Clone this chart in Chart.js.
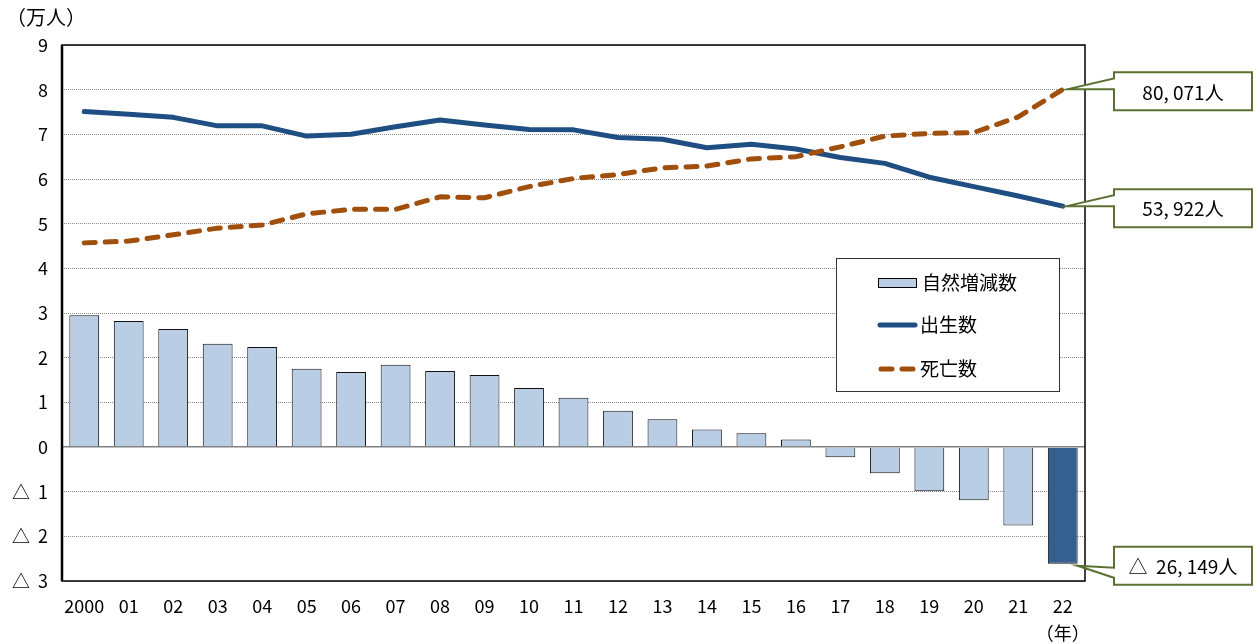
<!DOCTYPE html>
<html>
<head>
<meta charset="utf-8">
<script src="https://cdn.jsdelivr.net/npm/chart.js@4/dist/chart.umd.min.js"></script>
<style>
  html, body { margin: 0; padding: 0; background: #fff; }
  #wrap { width: 1260px; height: 644px; position: relative; }
</style>
</head>
<body>
<div id="wrap"><canvas id="chart"></canvas></div>
<script>
const years = ['2000','01','02','03','04','05','06','07','08','09','10','11','12','13','14','15','16','17','18','19','20','21','22']
// 万人
const natural = [2.95,2.82,2.64,2.31,2.24,1.75,1.68,1.84,1.70,1.61,1.32,1.10,0.81,0.62,0.39,0.31,0.17,-0.23,-0.59,-0.99,-1.19,-1.76,-2.6149]
const births = [7.51,7.45,7.38,7.19,7.19,6.96,7.00,7.17,7.32,7.21,7.11,7.10,6.93,6.89,6.70,6.78,6.67,6.48,6.35,6.04,5.83,5.62,5.3922]
const deaths = [4.57,4.61,4.75,4.90,4.97,5.22,5.32,5.32,5.60,5.58,5.83,6.01,6.10,6.25,6.29,6.45,6.50,6.72,6.96,7.02,7.04,7.39,8.0071]
const yTicks = [-3,-2,-1,0,1,2,3,4,5,6,7,8,9]
const seriesNames = ['自然増減数','出生数','死亡数']
const callouts = ['80, 071人','53, 922人','△  26, 149人']
const unitLabel = '（万人）'
const yearLabel = '（年）'

const FONT = '"Noto Sans CJK JP", "Noto Sans", sans-serif'
const BLUE = '#1f4e82'
const BROWN = '#a04f0c'
const BAR = '#b9cde5'
const BAR_LAST = '#365f91'
const GREEN = '#5b7132'

const xLabels = years.map((y, i) => i === years.length - 1 ? [y, yearLabel] : y)

const framePlugin = {
  id: 'frame',
  beforeDatasetsDraw(chart) {
    const { ctx, chartArea: a } = chart
    ctx.save()
    ctx.strokeStyle = '#000'
    ctx.lineWidth = 1.5
    ctx.strokeRect(a.left, a.top, a.right - a.left, a.bottom - a.top)
    ctx.lineWidth = 2.5
    ctx.beginPath()
    ctx.moveTo(a.left, a.top)
    ctx.lineTo(a.left, a.bottom)
    ctx.stroke()
    ctx.restore()
  }
}

const extrasPlugin = {
  id: 'extras',
  afterDraw(chart) {
    const { ctx, chartArea: a } = chart
    ctx.save()

    // unit label
    ctx.fillStyle = '#000'
    ctx.font = '20px ' + FONT
    ctx.textBaseline = 'middle'
    ctx.textAlign = 'left'
    ctx.fillText(unitLabel, 6, 17)

    // legend box
    const lx = a.right - 249, ly = a.top + 213, lw = 223, lh = 133
    ctx.fillStyle = '#fff'
    ctx.fillRect(lx, ly, lw, lh)
    ctx.strokeStyle = '#333'
    ctx.lineWidth = 1
    ctx.strokeRect(lx + 0.5, ly + 0.5, lw, lh)

    ctx.font = '19px ' + FONT
    ctx.textBaseline = 'middle'
    const sx = lx + 42
    // bar swatch
    ctx.fillStyle = BAR
    ctx.fillRect(sx, ly + 20, 38, 9)
    ctx.strokeStyle = '#000'
    ctx.strokeRect(sx + 0.5, ly + 20.5, 38, 9)
    ctx.fillStyle = '#000'
    ctx.fillText(seriesNames[0], sx + 44, ly + 25)
    // births
    ctx.strokeStyle = BLUE
    ctx.lineWidth = 5
    ctx.lineCap = 'round'
    ctx.beginPath()
    ctx.moveTo(sx + 2, ly + 67)
    ctx.lineTo(sx + 37, ly + 67)
    ctx.stroke()
    ctx.fillText(seriesNames[1], sx + 42, ly + 67)
    // deaths
    ctx.strokeStyle = BROWN
    ctx.setLineDash([11, 10])
    ctx.beginPath()
    ctx.moveTo(sx + 3, ly + 111)
    ctx.lineTo(sx + 38, ly + 111)
    ctx.stroke()
    ctx.setLineDash([])
    ctx.fillText(seriesNames[2], sx + 42, ly + 111)

    // callouts
    const last = years.length - 1
    const barEl = chart.getDatasetMeta(0).data[last]
    const bEl = chart.getDatasetMeta(1).data[last]
    const dEl = chart.getDatasetMeta(2).data[last]
    const tips = [
      { x: dEl.x + 4, y: dEl.y, text: callouts[0] },
      { x: bEl.x + 4, y: bEl.y, text: callouts[1] },
      { x: barEl.x + barEl.width / 2, y: barEl.y + 2, text: callouts[2] }
    ]
    const bx = a.right + 29, bw = 138, bh = 38
    ctx.font = '19px ' + FONT
    ctx.textAlign = 'center'
    tips.forEach((t, i) => {
      const by = i === 2 ? t.y - 19 : t.y - 17
      const w1 = i === 2 ? by + 21 : by + 6
      const w2 = i === 2 ? by + 31 : by + 17
      ctx.beginPath()
      ctx.moveTo(t.x, t.y)
      ctx.lineTo(bx, w1)
      ctx.lineTo(bx, by)
      ctx.lineTo(bx + bw, by)
      ctx.lineTo(bx + bw, by + bh)
      ctx.lineTo(bx, by + bh)
      ctx.lineTo(bx, w2)
      ctx.closePath()
      ctx.fillStyle = '#fff'
      ctx.fill()
      ctx.strokeStyle = GREEN
      ctx.lineWidth = 2
      ctx.lineJoin = 'miter'
      ctx.stroke()
      ctx.fillStyle = '#000'
      ctx.fillText(t.text, bx + bw / 2, by + bh / 2 + 1)
    })
    ctx.restore()
  }
}

new Chart(document.getElementById('chart'), {
  data: {
    labels: xLabels,
    datasets: [
      {
        type: 'bar',
        label: seriesNames[0],
        data: natural,
        backgroundColor: natural.map((v, i) => i === natural.length - 1 ? BAR_LAST : BAR),
        borderColor: '#111',
        borderWidth: 1,
        barPercentage: 0.67,
        categoryPercentage: 1,
        order: 2
      },
      {
        type: 'line',
        label: seriesNames[1],
        data: births,
        borderColor: BLUE,
        borderWidth: 5,
        pointRadius: 0,
        tension: 0,
        borderJoinStyle: 'round',
        borderCapStyle: 'round',
        fill: false,
        order: 1
      },
      {
        type: 'line',
        label: seriesNames[2],
        data: deaths,
        borderColor: BROWN,
        borderWidth: 5,
        borderDash: [11, 10],
        borderCapStyle: 'round',
        borderJoinStyle: 'round',
        pointRadius: 0,
        tension: 0,
        fill: false,
        order: 0
      }
    ]
  },
  options: {
    responsive: true,
    maintainAspectRatio: false,
    animation: false,
    layout: { padding: { top: 45, right: 175, left: 0, bottom: 0 } },
    plugins: {
      legend: { display: false },
      tooltip: { enabled: false }
    },
    scales: {
      x: {
        offset: true,
        grid: { display: false, drawTicks: false },
        border: { display: false },
        ticks: {
          color: '#000',
          font: { family: FONT, size: 18, lineHeight: 1.5 },
          padding: 12,
          maxRotation: 0,
          autoSkip: false
        },
        afterFit(scale) { scale.height = 63 }
      },
      y: {
        min: yTicks[0],
        max: yTicks[yTicks.length - 1],
        afterBuildTicks(scale) { scale.ticks = yTicks.map(v => ({ value: v })) },
        grid: {
          drawTicks: false,
          color: ctx => ctx.tick && ctx.tick.value === 0 ? '#808080' : '#8a8a8a',
          lineWidth: ctx => ctx.tick && ctx.tick.value === 0 ? 1.5 : 1
        },
        border: {
          display: false,
          dash: ctx => ctx.tick && ctx.tick.value === 0 ? [] : [1, 1]
        },
        ticks: {
          color: '#000',
          font: { family: FONT, size: 18 },
          padding: 14,
          callback: v => v < 0 ? '△  ' + (-v) : String(v)
        },
        afterFit(scale) { scale.width = 62 }
      }
    }
  },
  plugins: [framePlugin, extrasPlugin]
})
</script>
</body>
</html>
